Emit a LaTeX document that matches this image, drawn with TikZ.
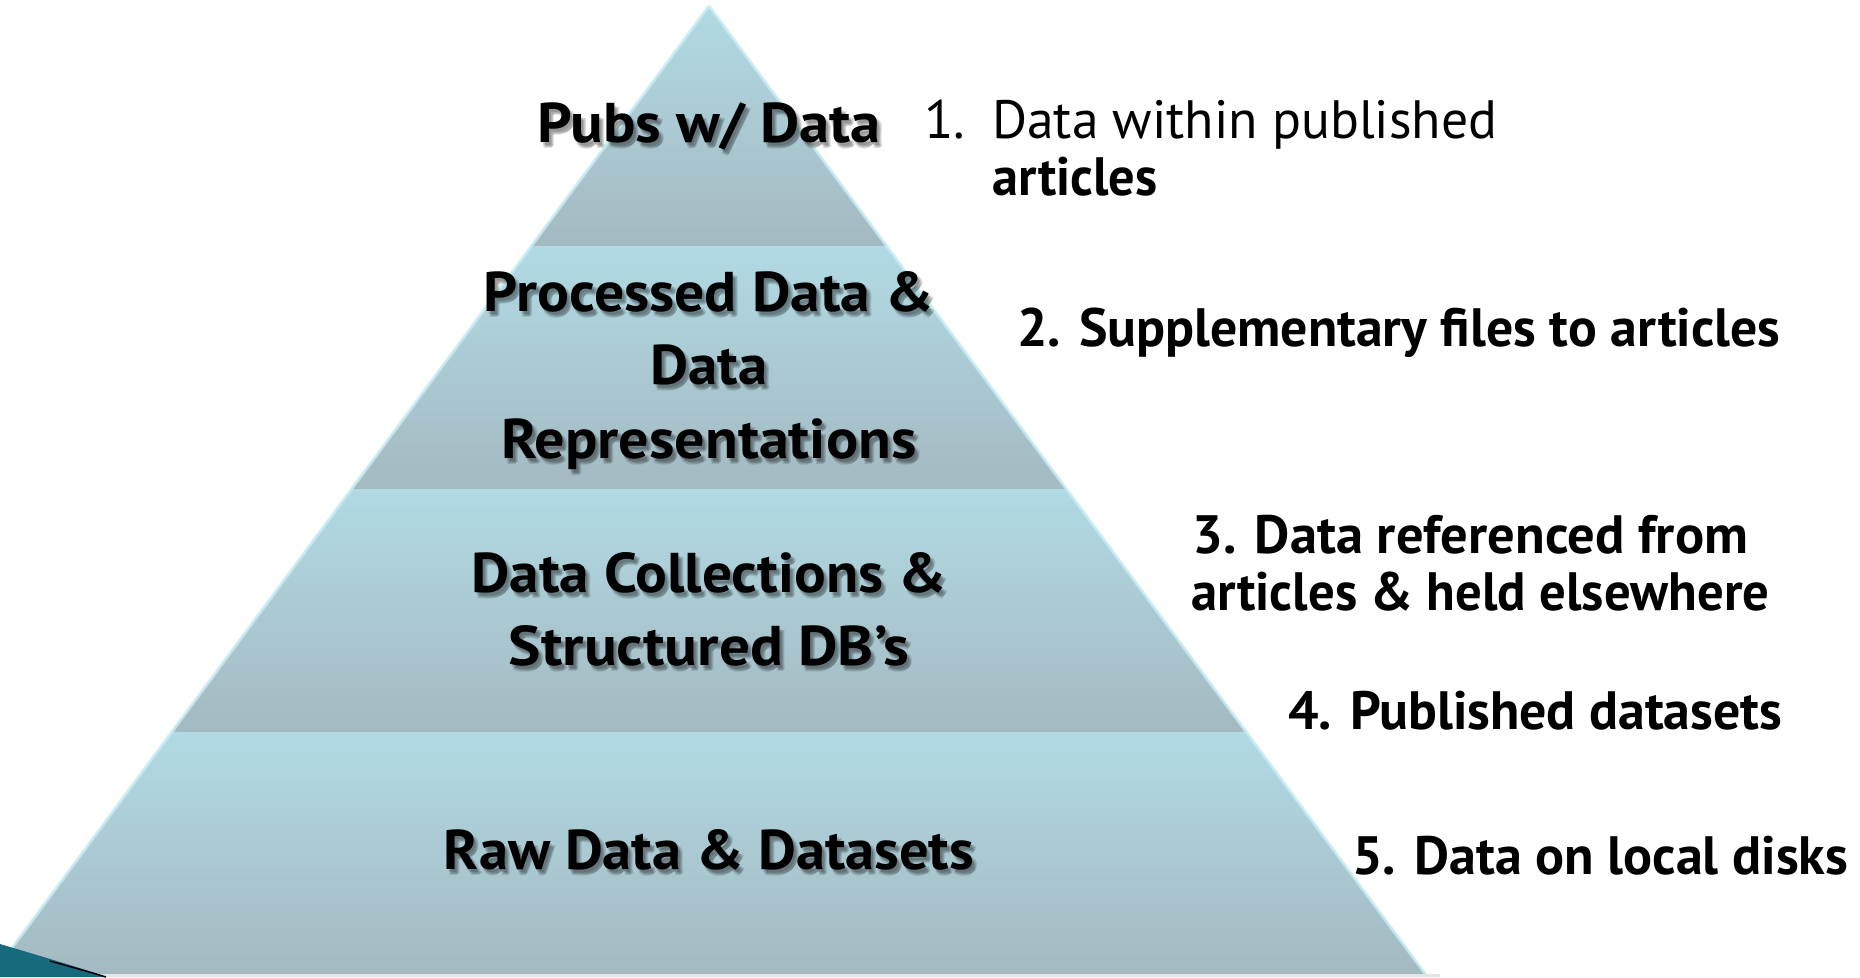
\documentclass[tikz,border=0pt]{standalone}
\usepackage{fontspec}
\usepackage{graphicx}
\setmainfont{PT Sans}
\definecolor{bandtop}{HTML}{B1DAE4}
\definecolor{bandbot}{HTML}{A4B9C1}
\definecolor{edgeglow}{HTML}{C6ECF3}
\definecolor{swoosh}{HTML}{17697E}
\definecolor{stripgrey}{HTML}{E4E4E4}
\newcommand{\fitw}[2]{\resizebox{#1pt}{\height}{#2}}
\newcommand{\pyrtext}[4]{% name, y baseline, width, text
  \foreach \dx/\dy in {2/3,4/5,3/6,5/4}{
    \node[pyrlbl, text=black, opacity=0.12] at (709+\dx,#2+\dy) {\fitw{#3}{#4}};
  }
  \node[pyrlbl] (#1) at (709,#2) {\fitw{#3}{#4}};
}
\begin{document}
\begin{tikzpicture}[x=1pt,y=-1pt,
  band/.style={top color=bandtop, bottom color=bandbot, draw=none},
  glow/.style={draw=edgeglow, line width=3pt, opacity=0.8},
  pyrlbl/.style={anchor=base, inner sep=0pt, font=\fontsize{56}{70}\selectfont\bfseries},
  sidelbl/.style={anchor=base west, inner sep=0pt, font=\fontsize{54}{66}\selectfont\bfseries},
  sidelblr/.style={anchor=base west, inner sep=0pt, font=\fontsize{54}{66}\selectfont}]
\useasboundingbox (0,0) rectangle (1860,977);
\clip (0,0) rectangle (1860,977);
\fill[white] (0,0) rectangle (1860,977);
% bands
\shade[band] (709,6) -- (886.6,246) -- (531.4,246) -- cycle;
\shade[band] (531.4,246) -- (886.6,246) -- (1066.4,489) -- (351.6,489) -- cycle;
\shade[band] (351.6,489) -- (1066.4,489) -- (1246.2,732) -- (171.8,732) -- cycle;
\shade[band] (171.8,732) -- (1246.2,732) -- (1425.3,974) -- (-7.3,974) -- cycle;
% edge glow
\draw[glow] (709,6) -- (-7.3,974);
\draw[glow] (709,6) -- (1425.3,974);
% grey strip and swoosh
\fill[stripgrey] (95,974) rectangle (1440,977);
\fill[swoosh] (0,944) .. controls (40,956) and (75,966) .. (106,977) -- (0,977) -- cycle;
\draw[black, line width=1.5pt] (50,961) .. controls (75,968) and (90,972) .. (106,977);
% pyramid labels
\pyrtext{pubs}{142}{343}{Pubs w/ Data}
\pyrtext{procA}{311}{450}{Processed Data \&}
\pyrtext{procB}{384}{117}{Data}
\pyrtext{procC}{458}{415}{Representations}
\pyrtext{collA}{592}{475}{Data Collections \&}
\pyrtext{collB}{665}{400}{Structured DB’s}
\pyrtext{raw}{869}{530}{Raw Data \& Datasets}
% side labels
\node[sidelblr] (n1) at (924,138) {1.};
\node[sidelblr] (l1a) at (992,138) {\fitw{505}{Data within published}};
\node[sidelbl] (l1b) at (992,195) {\fitw{165}{articles}};
\node[sidelbl] (l2) at (1017,346) {\fitw{763}{2. Supplementary files to articles}};
\node[sidelbl] (l3a) at (1192,553) {\fitw{556}{3. Data referenced from}};
\node[sidelbl] (l3b) at (1191,610) {\fitw{578}{articles \& held elsewhere}};
\node[sidelbl] (l4) at (1288,729) {\fitw{494}{4. Published datasets}};
\node[sidelbl] (l5) at (1352,874) {\fitw{496}{5. Data on local disks}};
\end{tikzpicture}
\end{document}
